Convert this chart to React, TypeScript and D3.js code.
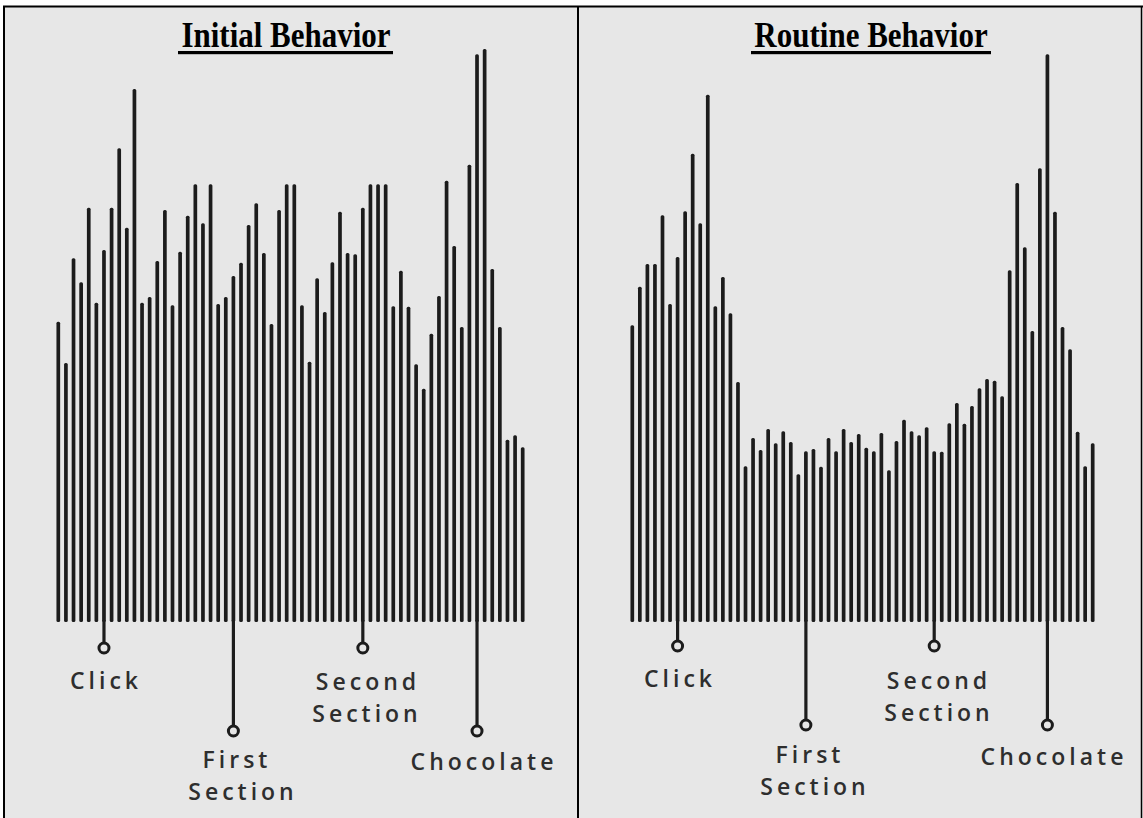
import React from "react";
import * as d3 from "d3";

const initialValues = [
  52.4, 45.2, 63.5, 59.3, 72.3, 55.7, 64.9, 72.3, 82.7, 68.8, 93.0, 55.7, 56.7, 63.0, 71.9, 55.3,
  64.6, 70.9, 76.4, 69.6, 76.4, 55.5, 56.7, 60.4, 62.7, 69.3, 73.1, 64.4, 52.0, 71.9, 76.4, 76.4,
  55.3, 45.4, 60.0, 54.1, 62.8, 71.6, 64.4, 64.2, 72.3, 76.4, 76.4, 76.4, 55.1, 61.3, 55.0, 45.0,
  40.7, 50.3, 56.9, 77.0, 65.6, 51.5, 79.8, 99.1, 100, 61.6, 51.5, 31.8, 32.6, 30.5,
];

const routineValues = [
  51.8, 58.5, 62.5, 62.5, 71.0, 55.5, 63.7, 71.7, 81.7, 69.6, 92.0, 55.1, 60.2, 53.9, 41.9, 27.2,
  32.1, 30.0, 33.7, 31.2, 33.3, 31.4, 25.8, 29.8, 30.2, 27.1, 32.1, 29.8, 33.7, 31.4, 32.8, 30.4,
  29.8, 33.0, 26.5, 31.6, 35.3, 33.3, 32.6, 34.0, 29.8, 29.7, 34.7, 38.2, 34.6, 37.7, 40.8, 42.4,
  42.1, 39.4, 61.4, 76.6, 65.4, 50.8, 79.2, 99.1, 71.6, 51.5, 47.6, 33.2, 27.2, 31.2,
];

const titles = ["Initial Behavior", "Routine Behavior"];

// marker labels: [bar index, label lines]
const markerIndex = [6, 23, 40, 55];
const markerLines = [["Click"], ["First", "Section"], ["Second", "Section"], ["Chocolate"]];

type Layout = {
  x0: number; x1: number; titleX: number; ulX0: number; ulX1: number;
  circleY: number[]; labelX: number[][]; labelY: number[][];
};

const layouts: Layout[] = [
  {
    x0: 58.3, x1: 522.7, titleX: 286, ulX0: 178, ulX1: 393,
    circleY: [648, 731, 648, 731],
    labelX: [[104], [235, 241], [366, 365], [482]],
    labelY: [[689], [768, 800], [690, 722], [770]],
  },
  {
    x0: 632.3, x1: 1092.7, titleX: 871, ulX0: 751, ulX1: 991,
    circleY: [646, 725, 646, 725],
    labelX: [[678], [808, 813], [937, 937], [1052]],
    labelY: [[687], [763, 795], [689, 721], [765]],
  },
];

const BASE = 622;
const TOP = 49;

function Panel({ values, layout, title }: { values: number[]; layout: Layout; title: string }) {
  const x = d3.scaleLinear().domain([0, values.length - 1]).range([layout.x0, layout.x1]);
  const y = d3.scaleLinear().domain([0, 100]).range([BASE, TOP]);
  const bw = 3.7;
  return (
    <g>
      <g transform={`translate(${layout.titleX},47) scale(1,1.18)`}>
        <text
          x={0}
          y={0}
          textAnchor="middle"
          fontFamily="'Liberation Serif', 'Times New Roman', serif"
          fontWeight="bold"
          fontSize={31}
          fill="#000"
        >
          {title}
        </text>
      </g>
      <rect x={layout.ulX0} y={51} width={layout.ulX1 - layout.ulX0} height={3.2} fill="#000" />
      {values.map((v, i) => (
        <rect
          key={i}
          x={x(i) - bw / 2}
          y={y(v)}
          width={bw}
          height={BASE - y(v)}
          rx={1.5}
          fill="#1c1c1c"
        />
      ))}
      {markerIndex.map((mi, k) => (
        <g key={k}>
          <line
            x1={x(mi)}
            x2={x(mi)}
            y1={BASE - 2}
            y2={layout.circleY[k] - 5}
            stroke="#1c1c1c"
            strokeWidth={3.2}
          />
          <circle cx={x(mi)} cy={layout.circleY[k]} r={5} fill="#e7e7e7" stroke="#1c1c1c" strokeWidth={3} />
          {markerLines[k].map((t, j) => (
            <text
              key={j}
              x={layout.labelX[k][j] + 2}
              y={layout.labelY[k][j]}
              textAnchor="middle"
              fontFamily="'Open Sans', 'DejaVu Sans', sans-serif"
              fontWeight={600}
              fontSize={23}
              letterSpacing={4}
              fill="#2e2e2e"
            >
              {t}
            </text>
          ))}
        </g>
      ))}
    </g>
  );
}

export default function App() {
  const W = 1143;
  const H = 818;
  return (
    <svg
      width={W}
      height={H}
      style={{ position: "absolute", left: 0, top: 0, background: "#fff" }}
    >
      <rect x={4} y={6.5} width={W - 4} height={H - 6.5} fill="#e7e7e7" />
      <line x1={3} x2={W} y1={6.5} y2={6.5} stroke="#000" strokeWidth={2} />
      <line x1={4} x2={4} y1={6} y2={H} stroke="#000" strokeWidth={2} />
      <line x1={578} x2={578} y1={6} y2={H} stroke="#000" strokeWidth={2} />
      <line x1={1141.5} x2={1141.5} y1={6} y2={H} stroke="#000" strokeWidth={1.5} />
      <Panel values={initialValues} layout={layouts[0]} title={titles[0]} />
      <Panel values={routineValues} layout={layouts[1]} title={titles[1]} />
    </svg>
  );
}
